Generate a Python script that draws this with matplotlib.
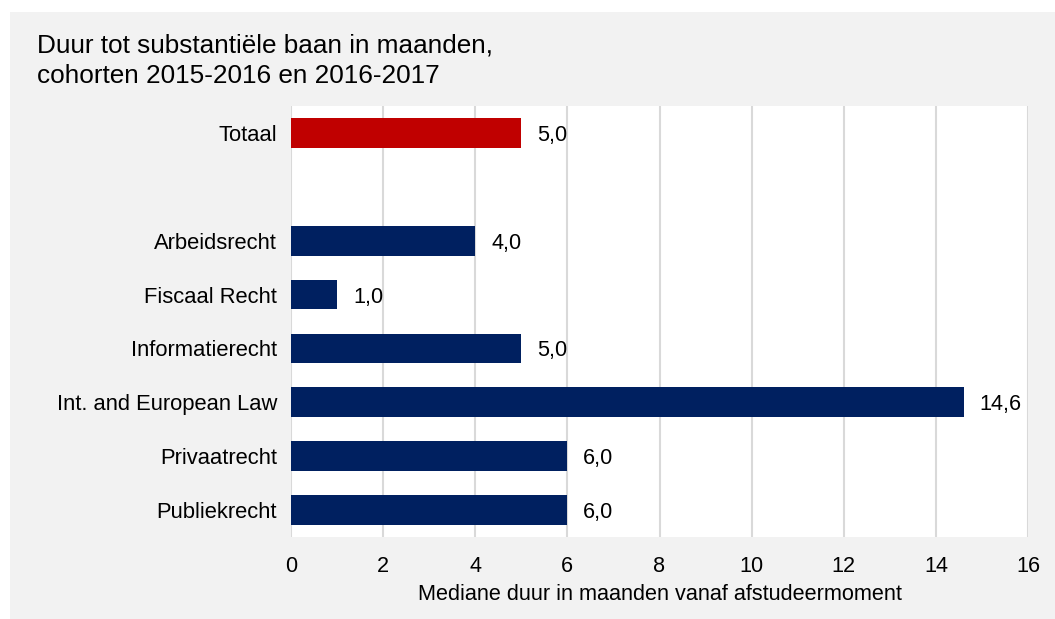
import numpy as np
import matplotlib.pyplot as plt
from matplotlib.patches import Rectangle

plt.rcParams['font.family'] = ['Liberation Sans', 'DejaVu Sans']

# Data (empty category = spacer row)
categories = ["Totaal", "", "Arbeidsrecht", "Fiscaal Recht", "Informatierecht",
              "Int. and European Law", "Privaatrecht", "Publiekrecht"]
values = [5.0, np.nan, 4.0, 1.0, 5.0, 14.6, 6.0, 6.0]
bar_colors = ["#c00000", "#002060", "#002060", "#002060", "#002060",
              "#002060", "#002060", "#002060"]
x_ticks = [0, 2, 4, 6, 8, 10, 12, 14, 16]

W, H = 1055, 619
fig = plt.figure(figsize=(W / 100, H / 100), dpi=100, facecolor="white")

# grey chart-area background
fig.patches.append(Rectangle((10 / W, 0), 1 - 10 / W, (H - 12) / H,
                             transform=fig.transFigure, facecolor="#f2f2f2",
                             edgecolor="none", zorder=-10))

ax = fig.add_axes([291 / W, (H - 537) / H, (1028 - 291) / W, (537 - 106) / H])
ax.set_facecolor("white")

y = np.arange(len(categories))
ax.barh(y, values, height=0.55, color=bar_colors, zorder=3)

for yi, v in zip(y, values):
    if np.isnan(v):
        continue
    ax.annotate(f"{v:.1f}".replace(".", ","), xy=(v, yi), xytext=(11.5, 0),
                textcoords="offset points", va="center_baseline", ha="left",
                fontsize=15.6, color="#000000")

ax.set_yticks(y)
ax.set_yticklabels(categories)
ax.set_ylim(len(categories) - 0.5, -0.5)
ax.set_xlim(0, 16)
ax.set_xticks(x_ticks)

ax.grid(axis="x", color="#d9d9d9", linewidth=1.5, zorder=0)
for s in ax.spines.values():
    s.set_visible(False)
ax.tick_params(axis="y", length=0, pad=10, labelsize=15.8)
ax.tick_params(axis="x", length=0, pad=14, labelsize=15.6)

ax.set_xlabel("Mediane duur in maanden vanaf afstudeermoment", fontsize=15.6,
              labelpad=5)

fig.text(37 / W, 1 - 33 / H, "Duur tot substantiële baan in maanden,\ncohorten 2015-2016 en 2016-2017",
         ha="left", va="top", fontsize=18.8, linespacing=1.38)

plt.savefig("out.png", dpi=100, facecolor=fig.get_facecolor())
